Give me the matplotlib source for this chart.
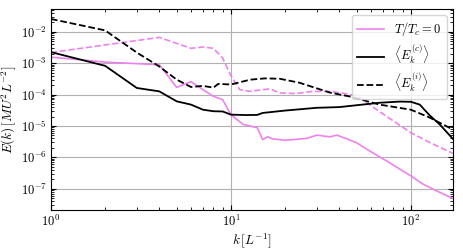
import matplotlib
matplotlib.use("Agg")
import matplotlib.pyplot as plt

plt.rcParams["mathtext.fontset"] = "cm"
plt.rcParams["font.family"] = "serif"
plt.rcParams["font.serif"] = ["cmr10", "DejaVu Serif"]
plt.rcParams["axes.formatter.use_mathtext"] = True

# T/Tc = 0, compressible part (solid pink)
k_t0_c = [1, 2, 4, 5, 6, 7, 8, 9, 10, 11.7, 14, 15, 16, 17, 20, 26.4, 30, 35.5,
          38.8, 44, 50, 59, 73.5, 100, 117, 139, 171]
e_t0_c = [1.57e-3, 1.09e-3, 9.0e-4, 1.7e-4, 2.6e-4, 1.44e-4, 8.8e-5, 6.9e-5, 2.3e-5,
          1.12e-5, 8.8e-6, 3.7e-6, 4.5e-6, 3.9e-6, 3.5e-6, 4.0e-6, 5.1e-6, 4.5e-6,
          5.1e-6, 3.9e-6, 2.9e-6, 1.59e-6, 7.6e-7, 2.55e-7, 1.39e-7, 8.5e-8, 4.9e-8]

# T/Tc = 0, incompressible part (dashed pink)
k_t0_i = [1, 4, 5, 6, 7, 8, 9, 10, 11.2, 12.8, 15, 16.5, 18.7, 23, 28.5, 35.5,
          43, 50, 64.7, 73.5, 100, 127, 171]
e_t0_i = [2.2e-3, 6.7e-3, 4.3e-3, 3.0e-3, 3.3e-3, 3.0e-3, 1.46e-3, 4.0e-4, 1.44e-4,
          1.27e-4, 1.44e-4, 1.52e-4, 1.13e-4, 1.08e-4, 1.27e-4, 1.27e-4, 1.08e-4,
          9.3e-5, 3.3e-5, 2.0e-5, 6.1e-6, 3.0e-6, 1.34e-6]

# averaged compressible spectrum
k_avg_c = [1, 2, 3, 4, 5, 6, 7, 8, 9, 10, 12, 14, 15, 20, 30, 40, 67, 87, 100,
           112, 127, 145, 171]
e_avg_c = [2.27e-3, 8.3e-4, 1.63e-4, 1.27e-4, 6.1e-5, 4.8e-5, 3.3e-5, 2.95e-5, 2.9e-5,
           2.3e-5, 2.23e-5, 2.25e-5, 2.6e-5, 3.1e-5, 3.8e-5, 4.0e-5, 5.5e-5, 6.0e-5,
           5.9e-5, 4.8e-5, 2.2e-5, 1.1e-5, 3.9e-6]

# averaged incompressible spectrum
k_avg_i = [1, 2, 3, 4, 5, 6, 7, 8, 8.5, 10, 12.8, 15.5, 18.7, 24, 35.5, 45.8, 67,
           100, 127, 171]
e_avg_i = [2.59e-2, 1.12e-2, 2.2e-3, 7.9e-4, 3.0e-4, 1.75e-4, 1.9e-4, 1.67e-4, 2.2e-4,
           2.1e-4, 3.0e-4, 3.3e-4, 3.2e-4, 2.4e-4, 1.16e-4, 8.7e-5, 4.8e-5, 3.3e-5,
           1.86e-5, 7.7e-6]

fig = plt.figure(figsize=(4.63, 2.49), dpi=100)
ax = fig.add_axes([0.110, 0.157, 0.868, 0.807])

pink = "violet"
ax.loglog(k_t0_c, e_t0_c, color=pink, lw=1.2, label=r"$T/T_c = 0$")
ax.loglog(k_t0_i, e_t0_i, color=pink, lw=1.2, ls="--")
ax.loglog(k_avg_c, e_avg_c, color="black", lw=1.3,
          label=r"$\left\langle E_k^{(c)} \right\rangle$")
ax.loglog(k_avg_i, e_avg_i, color="black", lw=1.3, ls="--",
          label=r"$\left\langle E_k^{(i)} \right\rangle$")

ax.set_xlim(1, 171)
ax.set_ylim(2.1e-8, 5.4e-2)
ax.grid(True, which="major", color="#b0b0b0", lw=0.8)
ax.tick_params(which="both", direction="in", top=True, right=True, labelsize=9, pad=3)

ax.set_xlabel(r"$k\,[L^{-1}]$", fontsize=9.5, labelpad=1)
ax.set_ylabel(r"$E(k)\,[MU^2L^{-2}]$", fontsize=9.5, labelpad=2)

ax.legend(loc="upper right", fontsize=9, labelspacing=0.4, handlelength=2.2,
          borderaxespad=0.5)

fig.savefig("out.png", dpi=100)
